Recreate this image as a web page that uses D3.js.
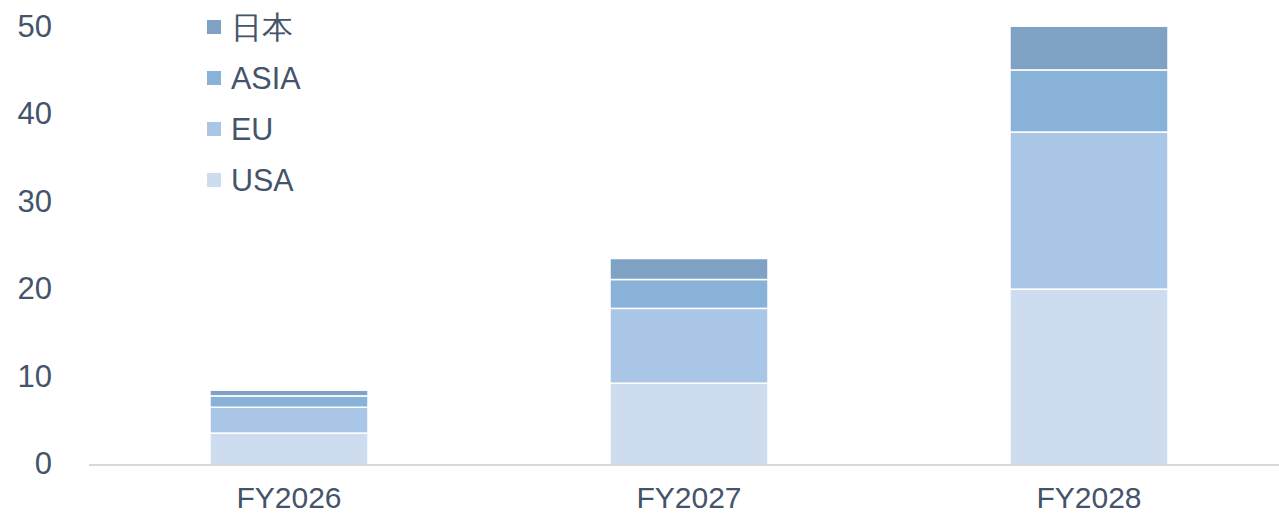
<!DOCTYPE html>
<html>
<head>
<meta charset="utf-8">
<script src="https://cdn.jsdelivr.net/npm/d3@7"></script>
<style>
  body { margin: 0; background: #fff; }
  svg { display: block; font-family: "Liberation Sans", Arial, sans-serif; }
</style>
</head>
<body>
<div id="chart"></div>
<script>
const categories = ["FY2026", "FY2027", "FY2028"];
const seriesNames = ["USA", "EU", "ASIA", "日本"];
const usa = [3.65, 9.35, 20.1];
const eu = [2.95, 8.55, 17.95];
const asia = [1.3, 3.3, 7.1];
const japan = [0.65, 2.4, 5.0];
const yTicks = [0, 10, 20, 30, 40, 50];

const colors = ["#cddcef", "#aac6e6", "#88b2d8", "#7ea1c4"];
const textColor = "#44546a";

const width = 1279, height = 515;

const svg = d3.select("#chart").append("svg")
  .attr("width", width)
  .attr("height", height);

// build rows for the stack
const rows = categories.map((c, i) => ({
  cat: c, USA: usa[i], EU: eu[i], ASIA: asia[i], "日本": japan[i]
}));
const stacked = d3.stack().keys(seriesNames)(rows);

const x = d3.scaleBand()
  .domain(categories)
  .range([89, 1289])
  .paddingInner(0.605)
  .paddingOuter(0.3025);

const y = d3.scaleLinear()
  .domain([0, 50])
  .range([465, 27.5]);

// bars
svg.selectAll("g.series")
  .data(stacked)
  .enter()
  .append("g")
  .attr("fill", (d, i) => colors[i])
  .selectAll("rect")
  .data((d) => d)
  .enter()
  .append("rect")
  .attr("x", (d) => x(d.data.cat))
  .attr("y", (d) => y(d[1]))
  .attr("width", x.bandwidth())
  .attr("height", (d) => y(d[0]) - y(d[1]))
  .attr("stroke", "#fff")
  .attr("stroke-width", 1.5);

// x axis line
svg.append("line")
  .attr("x1", 89).attr("x2", 1279)
  .attr("y1", y(0)).attr("y2", y(0))
  .attr("stroke", "#d9d9d9")
  .attr("stroke-width", 2);

// x labels
svg.selectAll("text.xlab")
  .data(categories)
  .enter()
  .append("text")
  .attr("x", (d) => x(d) + x.bandwidth() / 2)
  .attr("y", 508)
  .attr("text-anchor", "middle")
  .attr("font-size", 30)
  .attr("fill", textColor)
  .text((d) => d);

// y labels
svg.selectAll("text.ylab")
  .data(yTicks)
  .enter()
  .append("text")
  .attr("x", 52)
  .attr("y", (d) => y(d) - 2)
  .attr("dy", "0.36em")
  .attr("text-anchor", "end")
  .attr("font-size", 31)
  .attr("fill", textColor)
  .text((d) => d);

// legend (top entry is 日本)
const legendOrder = seriesNames.slice().reverse();
const legend = svg.selectAll("g.legend")
  .data(legendOrder)
  .enter()
  .append("g")
  .attr("transform", (d, i) => `translate(207, ${27 + i * 51})`);

legend.append("rect")
  .attr("x", 0).attr("y", -7)
  .attr("width", 14).attr("height", 14)
  .attr("fill", (d) => colors[seriesNames.indexOf(d)]);

legend.append("text")
  .attr("x", 24)
  .attr("y", 0)
  .attr("dy", "0.36em")
  .attr("font-size", 30.5)
  .attr("fill", textColor)
  .text((d) => d);
</script>
</body>
</html>
